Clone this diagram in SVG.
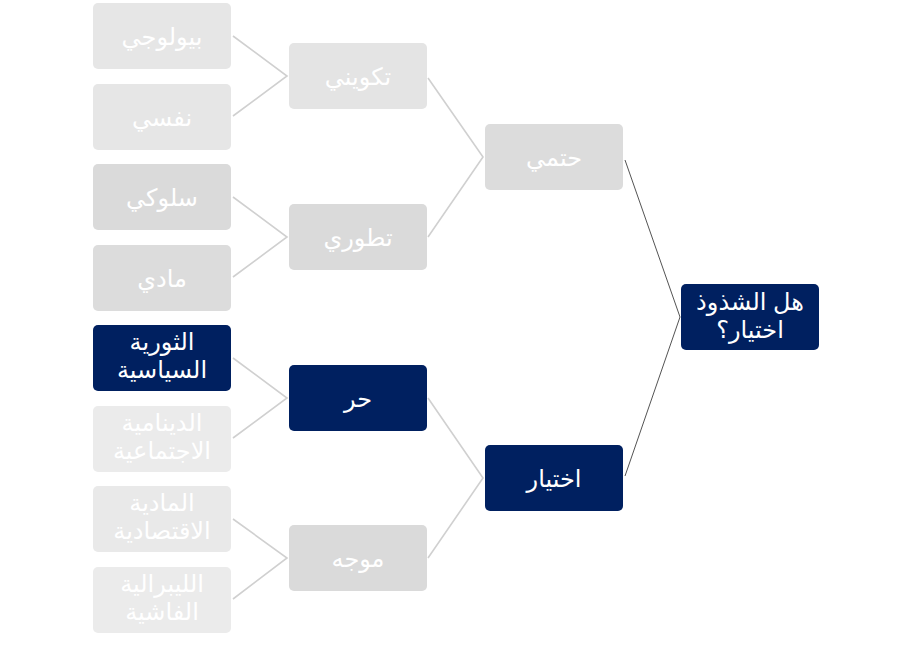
<svg xmlns="http://www.w3.org/2000/svg" width="911" height="646" viewBox="0 0 911 646">
<style>
.t{font-family:"Liberation Sans","DejaVu Sans",sans-serif;font-size:24px;fill:#ffffff;text-anchor:middle;direction:rtl}
.c1{stroke:#d0d0d0;stroke-width:1.6;fill:none}
.c2{stroke:#404040;stroke-width:0.9;fill:none}
.navy{fill:#002060}
</style>
<rect width="911" height="646" fill="#ffffff"/>
<g id="connectors">
<polyline class="c1" points="233,36 287,76 233,116"/>
<polyline class="c1" points="233,197 287,237 233,277"/>
<polyline class="c1" points="233,358 287,398 233,438"/>
<polyline class="c1" points="233,519 287,558 233,599"/>
<polyline class="c1" points="428,78 483,157 428,237"/>
<polyline class="c1" points="428,398 483,478 428,558"/>
<polyline class="c2" points="625,160 680,317 625,476"/>
</g>
<g id="n-bio"><rect x="93" y="3" width="138" height="66" rx="5" fill="#e6e6e6"/><text class="t" x="162" y="45">بيولوجي</text></g>
<g id="n-nafsi"><rect x="93" y="84" width="138" height="66" rx="5" fill="#e6e6e6"/><text class="t" x="162" y="126">نفسي</text></g>
<g id="n-suluki"><rect x="93" y="164" width="138" height="66" rx="5" fill="#dadada"/><text class="t" x="162" y="206">سلوكي</text></g>
<g id="n-madi"><rect x="93" y="245" width="138" height="66" rx="5" fill="#dcdcdc"/><text class="t" x="162" y="287">مادي</text></g>
<g id="n-thawra"><rect x="93" y="325" width="138" height="66" rx="5" class="navy"/><text class="t" x="162" y="350">الثورية</text><text class="t" x="162" y="378">السياسية</text></g>
<g id="n-dynamic"><rect x="93" y="406" width="138" height="66" rx="5" fill="#ebebeb"/><text class="t" x="162" y="431">الدينامية</text><text class="t" x="162" y="459">الاجتماعية</text></g>
<g id="n-madiya"><rect x="93" y="486" width="138" height="66" rx="5" fill="#e9e9e9"/><text class="t" x="162" y="511">المادية</text><text class="t" x="162" y="539">الاقتصادية</text></g>
<g id="n-liberal"><rect x="93" y="567" width="138" height="66" rx="5" fill="#ebebeb"/><text class="t" x="162" y="592">الليبرالية</text><text class="t" x="162" y="620">الفاشية</text></g>
<g id="n-takwini"><rect x="289" y="43" width="138" height="66" rx="5" fill="#e4e4e4"/><text class="t" x="358" y="85">تكويني</text></g>
<g id="n-tatawuri"><rect x="289" y="204" width="138" height="66" rx="5" fill="#dadada"/><text class="t" x="358" y="246">تطوري</text></g>
<g id="n-hurr"><rect x="289" y="365" width="138" height="66" rx="5" class="navy"/><text class="t" x="358" y="407">حر</text></g>
<g id="n-muwajjah"><rect x="289" y="525" width="138" height="66" rx="5" fill="#dadada"/><text class="t" x="358" y="567">موجه</text></g>
<g id="n-hatmi"><rect x="485" y="124" width="138" height="66" rx="5" fill="#dcdcdc"/><text class="t" x="554" y="166">حتمي</text></g>
<g id="n-ikhtiyar"><rect x="485" y="445" width="138" height="66" rx="5" class="navy"/><text class="t" x="554" y="487">اختيار</text></g>
<g id="n-root"><rect x="681" y="284" width="138" height="66" rx="5" class="navy"/><text class="t" x="750" y="310">هل الشذوذ</text><text class="t" x="750" y="338">اختيار؟</text></g>
</svg>
